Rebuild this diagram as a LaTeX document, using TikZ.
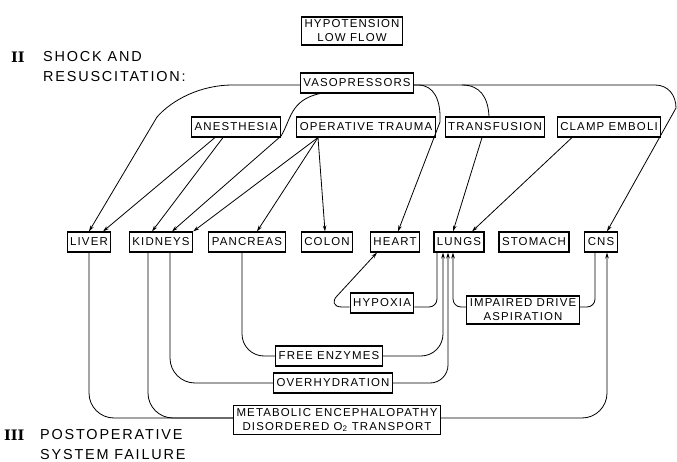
\documentclass[tikz,border=0pt]{standalone}
\usepackage{fontspec}
\newfontfamily\lettering[LetterSpace=10]{Liberation Sans}
\newfontfamily\titling[LetterSpace=12.5]{Liberation Sans}
\newfontfamily\numerals{DejaVu Serif}
\usetikzlibrary{arrows.meta}

\begin{document}
\begin{tikzpicture}[x=1bp,y=-1bp,>={Stealth[length=6bp,width=3.6bp]},
    every node/.style={font=\lettering\fontsize{11.5}{14}\selectfont},
    organ/.style={draw,line width=1.1bp,inner xsep=3bp,inner ysep=3bp,minimum height=20bp,align=center},
    link/.style={line width=0.8bp},
    heading/.style={anchor=north west,inner sep=0pt,align=left,font=\titling\fontsize{14.5}{20}\selectfont},
    numeral/.style={anchor=north west,inner sep=0pt,font=\numerals\bfseries\fontsize{14.5}{20}\selectfont}]
        \useasboundingbox (0,0) rectangle (677,462);

        \node[numeral] (n2) at (11,51.5) {II};
        \node[heading] (shock) at (43,51.5) {SHOCK AND\\RESUSCITATION:};
        \node[numeral] (n3) at (4,429.5) {III};
        \node[heading] (post) at (40,429.5) {POSTOPERATIVE\\SYSTEM FAILURE};

        \node[organ] (hypo) at (352,31) {HYPOTENSION\\LOW FLOW};
        \node[organ] (vaso) at (357,83) {VASOPRESSORS};
        \node[organ] (anest) at (236,127) {ANESTHESIA};
        \node[organ] (trauma) at (366,127) {OPERATIVE TRAUMA};
        \node[organ] (transf) at (495,127) {TRANSFUSION};
        \node[organ] (clamp) at (609,127) {CLAMP EMBOLI};

        \node[organ] (liver) at (89,242) {LIVER};
        \node[organ] (kid) at (161,242) {KIDNEYS};
        \node[organ] (panc) at (247,242) {PANCREAS};
        \node[organ] (colon) at (327,242) {COLON};
        \node[organ] (heart) at (395,242) {HEART};
        \node[organ] (lungs) at (459,242) {LUNGS};
        \node[organ] (stom) at (534,242) {STOMACH};
        \node[organ] (cns) at (601,242) {CNS};

        \node[organ] (hypox) at (382,303) {HYPOXIA};
        \node[organ] (drive) at (523,310) {IMPAIRED DRIVE\\ASPIRATION};
        \node[organ] (enz) at (329,356) {FREE ENZYMES};
        \node[organ] (overh) at (333,383) {OVERHYDRATION};
        \node[organ] (metab) at (337,420) {METABOLIC ENCEPHALOPATHY\\DISORDERED O\textsubscript{2} TRANSPORT};

        \draw[link,->] ([yshift=-2bp]vaso.west) -- (233,85) .. controls (200,85) and (172,100) .. (157,117) -- (liver.north);
        \draw[link,->] ([xshift=-21bp]anest.south) -- ([xshift=14bp]liver.north);
        \draw[link,->] ([xshift=-13bp]anest.south) -- ([xshift=-9bp]kid.north);
        \draw[link,->] ([xshift=-37bp]vaso.south) .. controls (290,100) and (291,120) .. (281,136) -- ([xshift=11bp]kid.north);
        \draw[link,->] ([xshift=-48bp]trauma.south) -- (kid.north east);
        \draw[link,->] ([xshift=-48bp]trauma.south) -- ([xshift=10bp]panc.north);
        \draw[link,->] ([xshift=-48bp]trauma.south) -- ([xshift=-2bp]colon.north);
        \draw[link,->] ([yshift=-2bp]vaso.east) -- (418,85) .. controls (434,85) and (441,100) .. (440,122) -- ([xshift=3bp]heart.north);
        \draw[link,->] ([yshift=-2bp]vaso.east) -- (655,85) .. controls (668,85) and (676,95) .. (676,108) -- ([xshift=6bp]cns.north);
        \draw[link] (462,85) .. controls (480,85) and (488,97) .. ([xshift=-6bp]transf.north);
        \draw[link,->] ([xshift=-13bp]transf.south) -- ([xshift=-6bp]lungs.north);
        \draw[link,->] ([xshift=-37bp]clamp.south) -- ([xshift=13bp]lungs.north);

        \draw[link,rounded corners=8bp] ([xshift=-22bp]lungs.south) |- ([yshift=-4bp]hypox.east);
        \draw[link,->] ([yshift=-4bp]hypox.west) -- (342,307) .. controls (333,307) and (332,301) .. (337,296) -- ([xshift=-18bp]heart.south);
        \draw[link,->,rounded corners=8bp] ([yshift=3bp]drive.west) -| ([xshift=-6bp]lungs.south);
        \draw[link,rounded corners=8bp] ([xshift=-6bp]cns.south) |- ([yshift=3bp]drive.east);
        \draw[link,rounded corners=22bp] ([xshift=-5bp]panc.south) |- (enz.west);
        \draw[link,->,rounded corners=22bp] (enz.east) -| ([xshift=-16bp]lungs.south);
        \draw[link,rounded corners=25bp] ([xshift=9bp]kid.south) |- (overh.west);
        \draw[link,->,rounded corners=18bp] (overh.east) -| ([xshift=-11bp]lungs.south);
        \draw[link,rounded corners=25bp] (liver.south) |- ([yshift=2bp]metab.west);
        \draw[link,rounded corners=25bp] ([xshift=-13bp]kid.south) |- ([yshift=2bp]metab.west);
        \draw[link,->,rounded corners=25bp] ([yshift=2bp]metab.east) -| ([xshift=6bp]cns.south);
\end{tikzpicture}
\end{document}
